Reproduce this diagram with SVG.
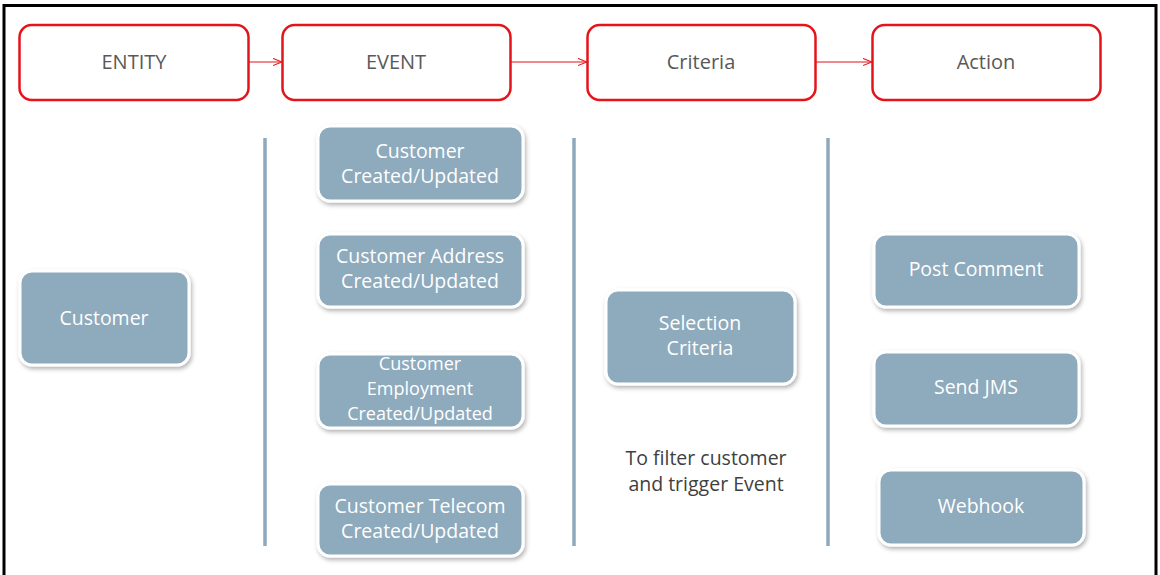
<svg xmlns="http://www.w3.org/2000/svg" width="1160" height="575" viewBox="0 0 1160 575">
  <defs>
    <style>
      .hdr rect { fill: #ffffff; stroke: #e3151a; stroke-width: 2.5; }
      .hdr text { font-family: "Open Sans", "Liberation Sans", sans-serif; font-size: 20px; fill: #595959; text-anchor: middle; }
      .blk rect { fill: #8eaabd; stroke: #ffffff; stroke-width: 3; filter: url(#shade); }
      .blk text { font-family: "Open Sans", "Liberation Sans", sans-serif; font-size: 19.5px; fill: #ffffff; text-anchor: middle; }
      .blk text.tight { font-size: 18px; }
      .sep { stroke: #8fa9bc; stroke-width: 3.5; }
      .flow { stroke: #e3151a; stroke-width: 1.2; fill: none; marker-end: url(#arr); }
      .note { font-family: "Open Sans", "Liberation Sans", sans-serif; font-size: 19.5px; fill: #404040; text-anchor: middle; }
    </style>
    <filter id="shade" x="-10%" y="-10%" width="125%" height="130%">
      <feDropShadow dx="1.5" dy="2.5" stdDeviation="2" flood-color="#000000" flood-opacity="0.3"/>
    </filter>
    <marker id="arr" viewBox="0 0 10 10" refX="10" refY="5" markerWidth="9" markerHeight="9" markerUnits="userSpaceOnUse" orient="auto">
      <path d="M0,1 L10,5 L0,9" fill="none" stroke="#e3151a" stroke-width="1.2"/>
    </marker>
  </defs>

  <!-- frame -->
  <rect x="0" y="0" width="1160" height="575" fill="#ffffff"/>
  <rect x="4" y="5.5" width="1152" height="572" fill="none" stroke="#000000" stroke-width="3"/>

  <!-- column separators -->
  <g id="separators">
    <line class="sep" x1="265" y1="138" x2="265" y2="546"/>
    <line class="sep" x1="574" y1="138" x2="574" y2="546"/>
    <line class="sep" x1="828" y1="138" x2="828" y2="546"/>
  </g>

  <!-- stage connectors -->
  <g id="connectors">
    <line class="flow" x1="249" y1="62" x2="282" y2="62"/>
    <line class="flow" x1="511" y1="62" x2="587" y2="62"/>
    <line class="flow" x1="816" y1="62" x2="872" y2="62"/>
  </g>

  <!-- stage headers -->
  <g id="entity" class="hdr">
    <rect x="19.5" y="25" width="229" height="75" rx="12"/>
    <text x="134" y="69">ENTITY</text>
  </g>
  <g id="event" class="hdr">
    <rect x="282.5" y="25" width="228" height="75" rx="12"/>
    <text x="396" y="69">EVENT</text>
  </g>
  <g id="criteria" class="hdr">
    <rect x="587.5" y="25" width="228" height="75" rx="12"/>
    <text x="701" y="69">Criteria</text>
  </g>
  <g id="action" class="hdr">
    <rect x="872.5" y="25" width="228" height="75" rx="12"/>
    <text x="986" y="69">Action</text>
  </g>

  <!-- entity column -->
  <g id="customer" class="blk">
    <rect x="20" y="271" width="169" height="94" rx="12"/>
    <text x="104" y="325">Customer</text>
  </g>

  <!-- event column -->
  <g id="ev-customer" class="blk">
    <rect x="318" y="126" width="205" height="75" rx="12"/>
    <text x="420" y="158">Customer</text>
    <text x="420" y="183">Created/Updated</text>
  </g>
  <g id="ev-address" class="blk">
    <rect x="318" y="234" width="205" height="73" rx="12"/>
    <text x="420" y="263">Customer Address</text>
    <text x="420" y="288">Created/Updated</text>
  </g>
  <g id="ev-employment" class="blk">
    <rect x="318" y="354" width="205" height="74" rx="12"/>
    <text class="tight" x="420" y="370">Customer</text>
    <text class="tight" x="420" y="395">Employment</text>
    <text class="tight" x="420" y="420">Created/Updated</text>
  </g>
  <g id="ev-telecom" class="blk">
    <rect x="318" y="484" width="205" height="72" rx="12"/>
    <text x="420" y="513">Customer Telecom</text>
    <text x="420" y="538">Created/Updated</text>
  </g>

  <!-- criteria column -->
  <g id="selection-criteria" class="blk">
    <rect x="606" y="290" width="189" height="94" rx="12"/>
    <text x="700" y="330">Selection</text>
    <text x="700" y="355">Criteria</text>
  </g>
  <text class="note" x="706" y="465">To filter customer</text>
  <text class="note" x="706" y="491">and trigger Event</text>

  <!-- action column -->
  <g id="post-comment" class="blk">
    <rect x="874" y="234" width="205" height="73" rx="12"/>
    <text x="976" y="276">Post Comment</text>
  </g>
  <g id="send-jms" class="blk">
    <rect x="874" y="352" width="205" height="74" rx="12"/>
    <text x="976" y="394">Send JMS</text>
  </g>
  <g id="webhook" class="blk">
    <rect x="879" y="470" width="205" height="75" rx="12"/>
    <text x="981" y="513">Webhook</text>
  </g>
</svg>
